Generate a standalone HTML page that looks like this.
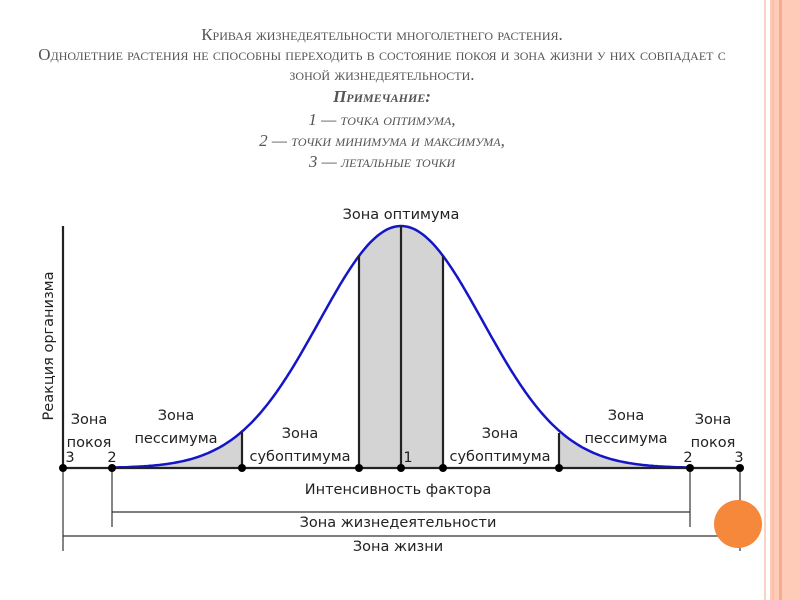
<!DOCTYPE html>
<html><head><meta charset="utf-8"><style>
body{margin:0;width:800px;height:600px;background:#fff;overflow:hidden;position:relative;font-family:"Liberation Serif","DejaVu Serif",serif}
.t{position:absolute;left:0;width:764px;text-align:center;color:#555;font-variant:small-caps;font-size:17px;line-height:20px}
</style></head><body>
<div style="position:absolute;left:764px;top:0;width:2px;height:600px;background:#fbd3c2"></div>
<div style="position:absolute;left:770px;top:0;width:30px;height:600px;background:#fdcbb7"></div>
<div style="position:absolute;left:779px;top:0;width:3px;height:600px;background:#f5ae8c"></div>
<div style="position:absolute;left:772px;top:0;width:2px;height:600px;background:#fbbfa5"></div>
<div class="t" style="top:25px">Кривая жизнедеятельности многолетнего растения.</div>
<div class="t" style="top:45px">Однолетние растения не способны переходить в состояние покоя и зона жизни у них совпадает с</div>
<div class="t" style="top:65px">зоной жизнедеятельности.</div>
<div class="t" style="top:87px;font-style:italic;font-weight:bold">Примечание:</div>
<div class="t" style="top:110px;font-style:italic">1 — точка оптимума,</div>
<div class="t" style="top:131px;font-style:italic">2 — точки минимума и максимума,</div>
<div class="t" style="top:152px;font-style:italic">3 — летальные точки</div>
<svg width="800" height="600" style="position:absolute;left:0;top:0" font-family="DejaVu Sans, Liberation Sans, sans-serif" font-size="14.5" fill="#222">
<path id="fl" d="" fill="#d4d4d4"/>
<path id="cv" d="" fill="none" stroke="#1515c8" stroke-width="2.5"/>
<g stroke="#222" stroke-width="2.2">
<line x1="63" y1="226" x2="63" y2="468"/>
<line x1="63" y1="468" x2="740" y2="468"/>
<line x1="242" y1="468" x2="242" y2="432"/>
<line x1="559" y1="468" x2="559" y2="433"/>
<line x1="359" y1="468" x2="359" y2="256"/>
<line x1="443" y1="468" x2="443" y2="256"/>
<line x1="401" y1="468" x2="401" y2="226"/>
</g>
<g stroke="#333" stroke-width="1.2">
<line x1="112" y1="468" x2="112" y2="527"/><line x1="690" y1="468" x2="690" y2="527"/>
<line x1="112" y1="512" x2="690" y2="512"/>
<line x1="63" y1="468" x2="63" y2="551"/><line x1="740" y1="468" x2="740" y2="551"/>
<line x1="63" y1="536" x2="740" y2="536"/>
</g>
<g fill="#000"><circle cx="63" cy="468" r="4"/><circle cx="112" cy="468" r="4"/><circle cx="242" cy="468" r="4"/><circle cx="359" cy="468" r="4"/><circle cx="401" cy="468" r="4"/><circle cx="443" cy="468" r="4"/><circle cx="559" cy="468" r="4"/><circle cx="690" cy="468" r="4"/><circle cx="740" cy="468" r="4"/></g>
<circle cx="738" cy="524" r="24" fill="#f5883a"/>
<g text-anchor="middle">
<text x="401" y="219">Зона оптимума</text>
<text x="89" y="424">Зона</text><text x="89" y="447">покоя</text>
<text x="176" y="420">Зона</text><text x="176" y="443">пессимума</text>
<text x="300" y="438">Зона</text><text x="300" y="461">субоптимума</text>
<text x="500" y="438">Зона</text><text x="500" y="461">субоптимума</text>
<text x="626" y="420">Зона</text><text x="626" y="443">пессимума</text>
<text x="713" y="424">Зона</text><text x="713" y="447">покоя</text>
<text x="70" y="462">3</text><text x="112" y="462">2</text><text x="408" y="462">1</text><text x="688" y="462">2</text><text x="739" y="462">3</text>
<text x="398" y="494">Интенсивность фактора</text>
<text x="398" y="527">Зона жизнедеятельности</text>
<text x="398" y="551">Зона жизни</text>
<text transform="translate(53,346) rotate(-90)">Реакция организма</text>
</g>
<script>
function y(x){return 468-242*Math.exp(-(x-401)*(x-401)/(2*6680));}
var d="",x;for(x=112;x<=690;x+=2){d+=(x==112?"M":"L")+x+" "+y(x).toFixed(1)+" ";}
document.getElementById("cv").setAttribute("d",d);
function seg(a,b){var s="M"+a+" 468 ";for(var x=a;x<=b;x+=1)s+="L"+x+" "+y(x).toFixed(1)+" ";return s+"L"+b+" 468Z ";}
document.getElementById("fl").setAttribute("d",seg(112,242)+seg(359,443)+seg(559,690));
</script>
</svg>
</body></html>
